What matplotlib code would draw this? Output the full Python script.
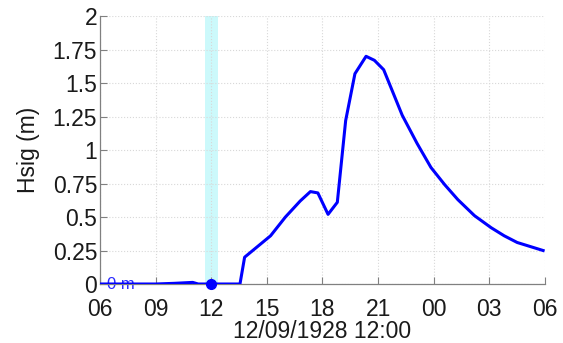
"""
Significant wave height time series, MATLAB-style axes.
"""

import datetime as dt

import matplotlib
matplotlib.use('Agg')
import matplotlib.pyplot as plt
import matplotlib.dates as mdates

plt.rcParams['font.family'] = ['Liberation Sans', 'DejaVu Sans']

# Data
# ----------------------------------------------------------------------------

t0 = dt.datetime(1928, 9, 12)
hours = [6.0, 7.0, 8.0, 9.0, 10.0, 11.0, 11.3, 12.0, 13.0, 13.55, 13.8,
         14.5, 15.2, 16.0, 16.8, 17.35, 17.75, 18.3, 18.8, 19.25, 19.75,
         20.35, 20.8, 21.3, 22.3, 23.1, 23.85, 24.6, 25.3, 26.2, 27.1,
         27.8, 28.5, 29.2, 29.9]
hsig = [0.0, 0.0, 0.0, 0.0, 0.005, 0.012, 0.0, 0.0, 0.0, 0.0, 0.20,
        0.28, 0.36, 0.50, 0.62, 0.69, 0.68, 0.52, 0.61, 1.22, 1.57,
        1.70, 1.67, 1.60, 1.26, 1.05, 0.87, 0.74, 0.63, 0.51, 0.42,
        0.36, 0.31, 0.28, 0.25]

band_hours = (11.65, 12.35)
now_hour = 12.0
now_value = 0.0

times = [t0 + dt.timedelta(hours=h) for h in hours]
band = [t0 + dt.timedelta(hours=h) for h in band_hours]
now = t0 + dt.timedelta(hours=now_hour)

# Plot
# ----------------------------------------------------------------------------

fig = plt.figure(figsize=(5.63, 3.43), dpi=100)
ax = fig.add_axes([0.1776, 0.172, 0.7904, 0.781])

ax.axvspan(band[0], band[1], color='#ccf9fb', lw=0, zorder=1)
ax.plot(times, hsig, color='#0000ff', lw=2.2, zorder=3)
ax.plot([now], [now_value], 'o', color='#0000ff', ms=7, zorder=4,
        clip_on=False)
ax.text(t0 + dt.timedelta(hours=6.4), 0.0, '0 m', color='#2a2aff',
        fontsize=12, va='center', ha='left', zorder=2)

ax.set_xlim(t0 + dt.timedelta(hours=6), t0 + dt.timedelta(hours=30))
ax.set_ylim(0, 2)
ax.set_yticks([0, 0.25, 0.5, 0.75, 1, 1.25, 1.5, 1.75, 2])
ax.set_yticklabels(['0', '0.25', '0.5', '0.75', '1', '1.25', '1.5',
                    '1.75', '2'])
ax.xaxis.set_major_locator(mdates.HourLocator(byhour=range(0, 24, 3)))
ax.xaxis.set_major_formatter(mdates.DateFormatter('%H'))

ax.grid(True, color='#d8d8d8', ls=':', lw=0.8)
for side in ('top', 'right'):
    ax.spines[side].set_visible(False)
for side in ('left', 'bottom'):
    ax.spines[side].set_color('#808080')
    ax.spines[side].set_linewidth(0.9)
ax.tick_params(direction='in', length=5, color='#808080', labelsize=16.5,
               labelcolor='#1a1a1a')
ax.tick_params(axis='x', pad=10)
ax.tick_params(axis='y', pad=2)

ax.set_xlabel('12/09/1928 12:00', fontsize=16.5, color='#1a1a1a',
              labelpad=-1)
ax.set_ylabel('Hsig (m)', fontsize=16.5, color='#1a1a1a', labelpad=9)

fig.savefig('out.png', dpi=100)
